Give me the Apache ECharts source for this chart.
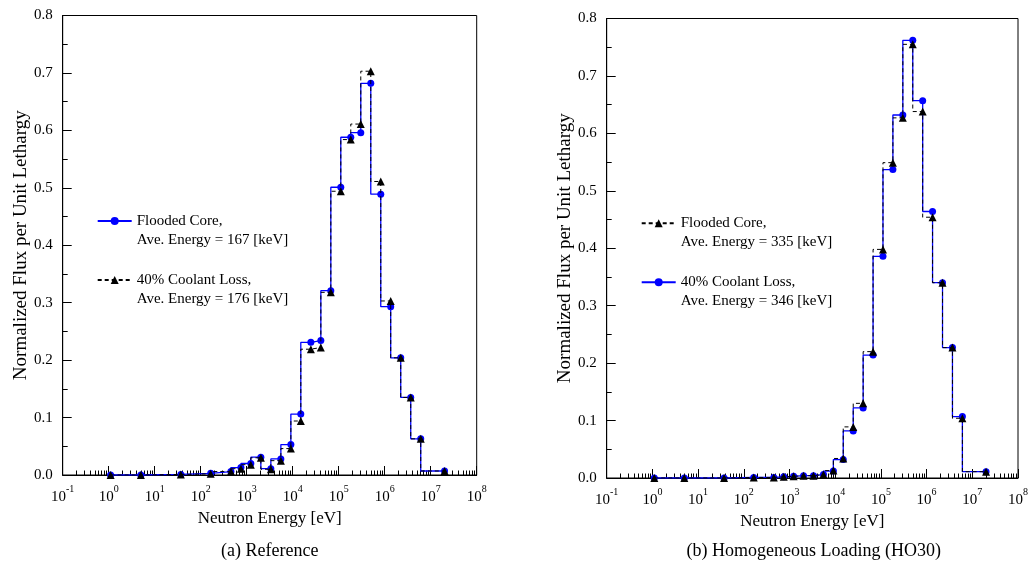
<!DOCTYPE html>
<html><head><meta charset="utf-8">
<script src="https://cdn.jsdelivr.net/npm/echarts@6/dist/echarts.min.js"></script>
<style>html,body{margin:0;padding:0;background:#fff}#c{width:1031px;height:568px}</style>
</head><body><div id="c"></div>
<script>
// Upper energies of the groups (eV)
const energyEV = [1.1, 5.0, 37, 165, 454, 749, 1230, 2030, 3350, 5530, 9120, 15000, 24800, 40900, 67400, 111000, 183000, 302000, 498000, 821000, 1350000, 2230000, 3680000, 6070000, 20000000];
// (a) Reference
const refFlooded = [0, 0, 0.001, 0.003, 0.006, 0.013, 0.020, 0.031, 0.011, 0.028, 0.053, 0.106, 0.231, 0.234, 0.321, 0.501, 0.588, 0.596, 0.682, 0.489, 0.293, 0.204, 0.135, 0.063, 0.007];
const refCoolant = [0, 0, 0.001, 0.002, 0.006, 0.011, 0.018, 0.030, 0.010, 0.025, 0.046, 0.094, 0.219, 0.222, 0.318, 0.494, 0.584, 0.611, 0.703, 0.511, 0.303, 0.204, 0.135, 0.063, 0.007];
// (b) Homogeneous Loading (HO30)
const hoFlooded = [0, 0, 0, 0.001, 0.001, 0.002, 0.003, 0.004, 0.004, 0.006, 0.013, 0.034, 0.089, 0.130, 0.220, 0.398, 0.549, 0.627, 0.755, 0.638, 0.454, 0.340, 0.227, 0.104, 0.011];
const hoCoolant = [0, 0, 0, 0.001, 0.001, 0.002, 0.003, 0.004, 0.004, 0.006, 0.012, 0.032, 0.082, 0.122, 0.214, 0.386, 0.537, 0.632, 0.762, 0.657, 0.464, 0.340, 0.227, 0.107, 0.011];

const xMin = 0.1, xMax = 1e8;
const yMin = 0, yMax = 0.8, yStep = 0.1;
const xName = 'Neutron Energy [eV]';
const yName = 'Normalized Flux per Unit Lethargy';
const captions = ['(a) Reference', '(b) Homogeneous Loading (HO30)'];
const legendLines = {
  'Flooded Core (Reference)': ['Flooded Core,', 'Ave. Energy = 167 [keV]'],
  '40% Coolant Loss (Reference)': ['40% Coolant Loss,', 'Ave. Energy = 176 [keV]'],
  'Flooded Core (HO30)': ['Flooded Core,', 'Ave. Energy = 335 [keV]'],
  '40% Coolant Loss (HO30)': ['40% Coolant Loss,', 'Ave. Energy = 346 [keV]']
};

const FONT = "'Liberation Serif', 'Times New Roman', serif";
const BLUE = '#0000ff';
const minorLog = [];
for (let n = Math.round(Math.log10(xMin)); n < Math.round(Math.log10(xMax)); n++) {
  for (let k = 2; k <= 9; k++) minorLog.push(n + Math.log10(k));
}
const pairs = vals => energyEV.map((e, i) => [e, vals[i]]);

const grids = [
  {left: 62.7, top: 15.5, width: 414, height: 459.5, show: true, borderColor: '#000', borderWidth: 1, backgroundColor: 'transparent'},
  {left: 606.7, top: 18.5, width: 414, height: 459.5, show: true, borderColor: '#000', borderWidth: 1, backgroundColor: 'transparent'}
];

function mainX(g) {
  return {
    type: 'log', logBase: 10, gridIndex: g, min: xMin, max: xMax, position: 'bottom',
    name: xName, nameLocation: 'middle', nameGap: 33,
    nameTextStyle: {fontFamily: FONT, fontSize: 17, color: '#000'},
    axisLine: {show: true, onZero: false, lineStyle: {color: '#000', width: 1}},
    axisTick: {show: true, inside: true, length: 9, lineStyle: {color: '#000'}},
    minorTick: {show: false},
    splitLine: {show: false}, minorSplitLine: {show: false},
    axisLabel: {
      margin: 9, color: '#000', fontFamily: FONT,
      formatter: v => '{b|10}{s|' + Math.round(Math.log10(v)) + '}',
      rich: {
        b: {fontFamily: FONT, fontSize: 15, color: '#000', lineHeight: 21, verticalAlign: 'bottom'},
        s: {fontFamily: FONT, fontSize: 10, color: '#000', lineHeight: 11, verticalAlign: 'top'}
      }
    }
  };
}
function minorX(g) {
  return {
    type: 'value', gridIndex: g, min: Math.log10(xMin), max: Math.log10(xMax), position: 'bottom',
    axisLine: {show: false, onZero: false}, axisLabel: {show: false}, splitLine: {show: false},
    axisTick: {show: true, inside: true, length: 4.5, customValues: minorLog, lineStyle: {color: '#000'}}
  };
}
function yAx(g) {
  return {
    type: 'value', gridIndex: g, min: yMin, max: yMax, interval: yStep, position: 'left',
    name: yName, nameLocation: 'middle', nameGap: 25, nameRotate: 90,
    nameTextStyle: {fontFamily: FONT, fontSize: 19, color: '#000'},
    axisLine: {show: true, onZero: false, lineStyle: {color: '#000', width: 1}},
    axisTick: {show: true, inside: true, length: 9, lineStyle: {color: '#000'}},
    minorTick: {show: true, splitNumber: 2, length: 5, lineStyle: {color: '#000'}},
    splitLine: {show: false},
    axisLabel: {margin: 10, color: '#000', fontFamily: FONT, fontSize: 15, formatter: v => v.toFixed(1)}
  };
}

function blueSeries(name, vals, xi, yi) {
  return {name, type: 'line', xAxisIndex: xi, yAxisIndex: yi, step: 'start', data: pairs(vals),
    symbol: 'circle', symbolSize: 7, itemStyle: {color: BLUE}, lineStyle: {color: BLUE, width: 1.3}, z: 2};
}
function blackSeries(name, vals, xi, yi) {
  return {name, type: 'line', xAxisIndex: xi, yAxisIndex: yi, step: 'start', data: pairs(vals),
    symbol: 'triangle', symbolSize: 8, itemStyle: {color: '#000'}, lineStyle: {color: '#000', width: 1, type: [4, 3]}, z: 3};
}

// three-line label: blank first line so the icon sits beside the first text line
function legendOpt(left, top, names) {
  return {
    left, top, orient: 'vertical', padding: 0, itemGap: 2, itemWidth: 34, itemHeight: 10,
    selectedMode: false, data: names,
    formatter: n => '\n' + legendLines[n].join('\n'),
    textStyle: {fontFamily: FONT, fontSize: 15, color: '#000', lineHeight: 19}
  };
}

const chart = echarts.init(document.getElementById('c'), null, {renderer: 'canvas'});
chart.setOption({
  animation: false,
  backgroundColor: '#fff',
  grid: grids,
  xAxis: [mainX(0), minorX(0), mainX(1), minorX(1)],
  yAxis: [yAx(0), yAx(1)],
  legend: [
    legendOpt(96.7, 192.5, ['Flooded Core (Reference)', '40% Coolant Loss (Reference)']),
    legendOpt(640.7, 194.8, ['Flooded Core (HO30)', '40% Coolant Loss (HO30)'])
  ],
  series: [
    blueSeries('Flooded Core (Reference)', refFlooded, 0, 0),
    blackSeries('40% Coolant Loss (Reference)', refCoolant, 0, 0),
    blueSeries('40% Coolant Loss (HO30)', hoCoolant, 2, 1),
    blackSeries('Flooded Core (HO30)', hoFlooded, 2, 1)
  ],
  graphic: [
    {type: 'text', x: 269.7, y: 551, style: {text: captions[0], font: '18px ' + FONT, fill: '#000', align: 'center', verticalAlign: 'middle'}},
    {type: 'text', x: 813.7, y: 551, style: {text: captions[1], font: '18px ' + FONT, fill: '#000', align: 'center', verticalAlign: 'middle'}}
  ]
});
</script></body></html>
